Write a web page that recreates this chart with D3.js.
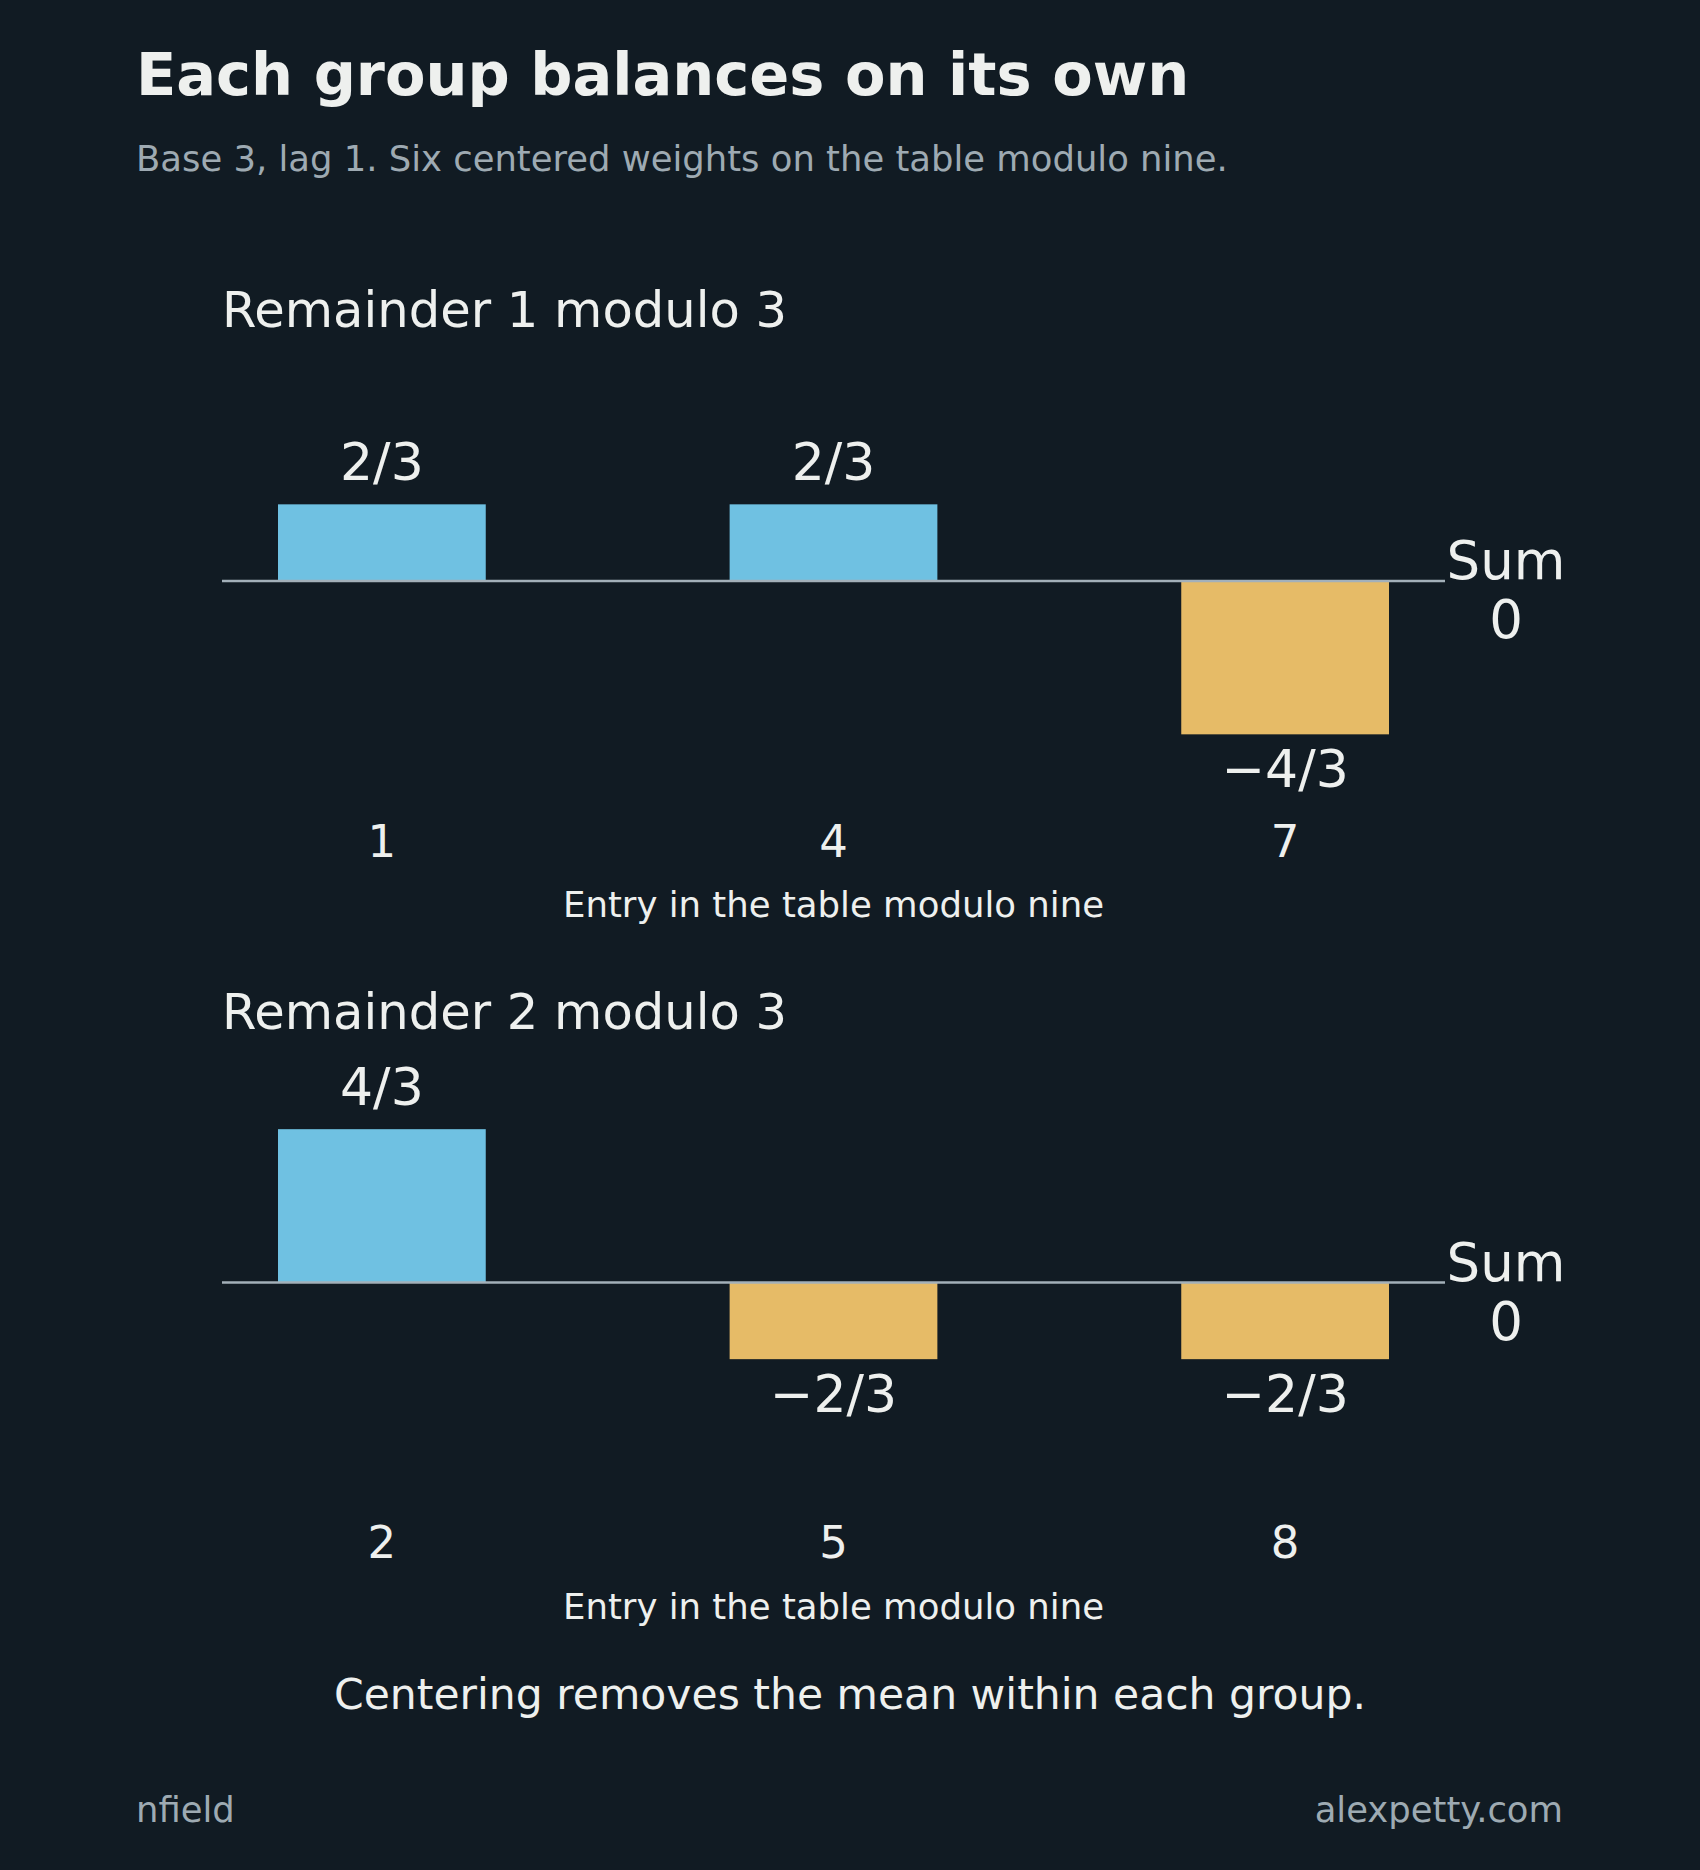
<!DOCTYPE html>
<html>
<head>
<meta charset="utf-8">
<script src="https://cdn.jsdelivr.net/npm/d3@7"></script>
<style>
  html, body { margin: 0; padding: 0; background: #111b23; }
  svg { display: block; font-family: "DejaVu Sans", sans-serif; }
</style>
</head>
<body>
<div id="chart"></div>
<script>
// data
const panelTitles = ["Remainder 1 modulo 3", "Remainder 2 modulo 3"];
const entries1 = ["1", "4", "7"];
const weights1 = [2 / 3, 2 / 3, -4 / 3];
const labels1 = ["2/3", "2/3", "\u22124/3"];
const entries2 = ["2", "5", "8"];
const weights2 = [4 / 3, -2 / 3, -2 / 3];
const labels2 = ["4/3", "\u22122/3", "\u22122/3"];
const sums = ["0", "0"];

const colors = {
    bg: "#111b23",
    text: "#eef0ee",
    muted: "#9eaab2",
    pos: "#6fc1e2",
    neg: "#e6bb67",
    zero: "#a3b0b9"
};

const W = 1700, H = 1870;
const panelTops = [351, 1052.5];
const panelH = 460;
const margin = { left: 222, right: 1445 };

const svg = d3.select("#chart")
    .append("svg")
    .attr("width", W)
    .attr("height", H);

svg.append("rect").attr("width", W).attr("height", H).attr("fill", colors.bg);

// header
svg.append("text")
    .attr("x", 136).attr("y", 94.5)
    .attr("fill", colors.text)
    .style("font-size", "59px").style("font-weight", "bold")
    .text("Each group balances on its own");

svg.append("text")
    .attr("x", 136).attr("y", 170.5)
    .attr("fill", colors.muted)
    .style("font-size", "35.4px")
    .text("Base 3, lag 1. Six centered weights on the table modulo nine.");

const y = d3.scaleLinear().domain([-2, 2]).range([panelH, 0]);

const panels = [
    { title: panelTitles[0], entries: entries1, weights: weights1, labels: labels1, sum: sums[0] },
    { title: panelTitles[1], entries: entries2, weights: weights2, labels: labels2, sum: sums[1] }
];

panels.forEach((p, k) => {
    const g = svg.append("g").attr("transform", `translate(0, ${panelTops[k]})`);
    const rows = p.entries.map((e, i) => ({ e: e, v: p.weights[i], lab: p.labels[i] }));

    const x = d3.scaleBand()
        .domain(p.entries)
        .range([margin.left, margin.right])
        .paddingInner(0.54)
        .paddingOuter(0.124);

    g.append("text")
        .attr("x", margin.left).attr("y", -24)
        .attr("fill", colors.text)
        .style("font-size", "49.6px")
        .text(p.title);

    g.selectAll("rect.bar")
        .data(rows)
        .enter()
        .append("rect")
        .attr("class", "bar")
        .attr("x", d => x(d.e))
        .attr("width", x.bandwidth())
        .attr("y", d => y(Math.max(0, d.v)))
        .attr("height", d => Math.abs(y(d.v) - y(0)))
        .attr("fill", d => d.v >= 0 ? colors.pos : colors.neg);

    g.append("line")
        .attr("x1", margin.left).attr("x2", margin.right)
        .attr("y1", y(0)).attr("y2", y(0))
        .attr("stroke", colors.zero)
        .attr("stroke-width", 2.5);

    g.selectAll("text.val")
        .data(rows)
        .enter()
        .append("text")
        .attr("class", "val")
        .attr("x", d => x(d.e) + x.bandwidth() / 2)
        .attr("y", d => d.v >= 0 ? y(d.v) - 24 : y(d.v) + 53)
        .attr("text-anchor", "middle")
        .attr("fill", colors.text)
        .style("font-size", "52px")
        .text(d => d.lab);

    // sum tag on the right
    const sumX = margin.right + 61;
    g.append("text")
        .attr("x", sumX).attr("y", y(0) - 2)
        .attr("text-anchor", "middle")
        .attr("fill", colors.text)
        .style("font-size", "53px")
        .text("Sum");
    g.append("text")
        .attr("x", sumX).attr("y", y(0) + 57)
        .attr("text-anchor", "middle")
        .attr("fill", colors.text)
        .style("font-size", "53px")
        .text(p.sum);

    const axis = g.append("g")
        .attr("transform", `translate(0, ${panelH})`)
        .call(d3.axisBottom(x).tickSize(0).tickPadding(14));
    axis.select(".domain").remove();
    axis.selectAll("text")
        .attr("fill", colors.text)
        .style("font-size", "45px")
        .style("font-family", "DejaVu Sans, sans-serif");

    g.append("text")
        .attr("x", (margin.left + margin.right) / 2).attr("y", 566.3)
        .attr("text-anchor", "middle")
        .attr("fill", colors.text)
        .style("font-size", "35.5px")
        .text("Entry in the table modulo nine");
});

// footer
svg.append("text")
    .attr("x", W / 2).attr("y", 1709)
    .attr("text-anchor", "middle")
    .attr("fill", colors.text)
    .style("font-size", "42.5px")
    .text("Centering removes the mean within each group.");

svg.append("text")
    .attr("x", 136).attr("y", 1822)
    .attr("fill", colors.muted)
    .style("font-size", "35.4px")
    .text("nfield");

svg.append("text")
    .attr("x", 1563).attr("y", 1822)
    .attr("text-anchor", "end")
    .attr("fill", colors.muted)
    .style("font-size", "35.4px")
    .text("alexpetty.com");
</script>
</body>
</html>
